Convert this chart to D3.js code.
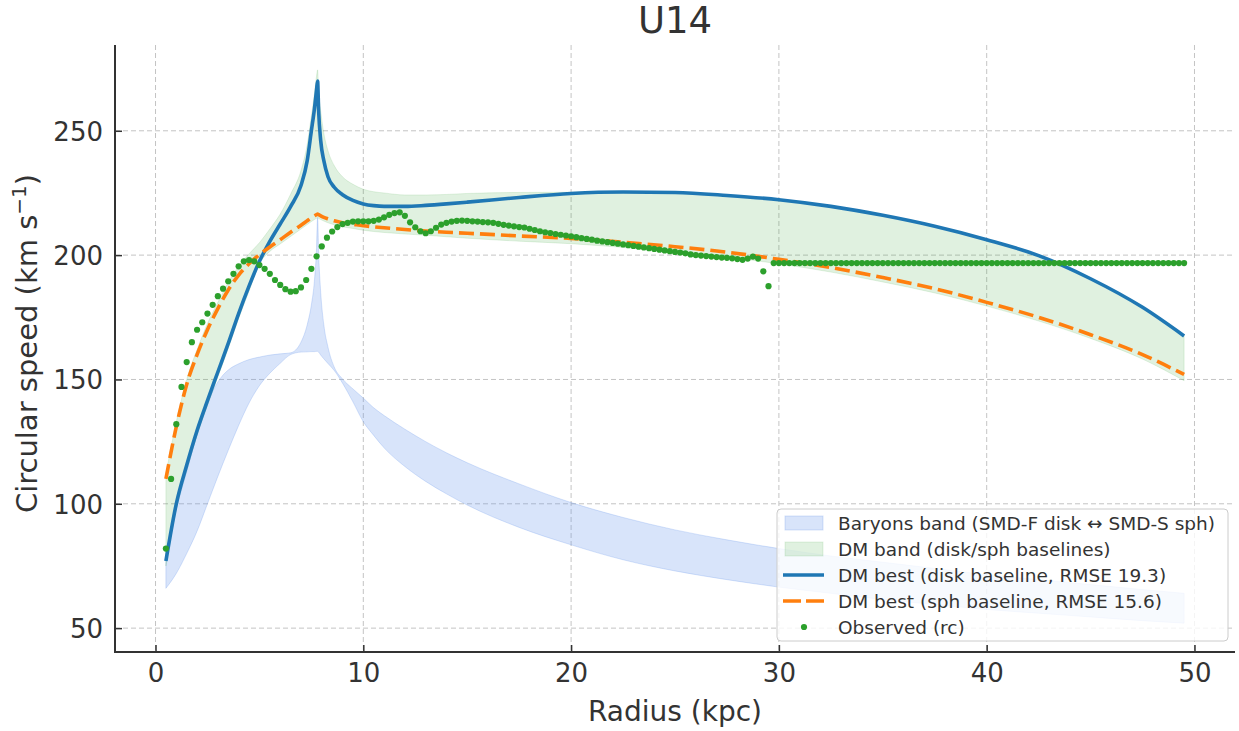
<!DOCTYPE html>
<html>
<head>
<meta charset="utf-8">
<script src="https://cdn.jsdelivr.net/npm/d3@7"></script>
<style>
  body { margin: 0; background: #fff; }
  svg { font-family: "DejaVu Sans", sans-serif; }
</style>
</head>
<body>
<svg width="1239" height="731"></svg>
<script>
// model radii (kpc) shared by the curves and bands
var radii = [0.5, 1, 1.5, 2, 2.5, 3, 3.5, 4, 4.5, 5,
  5.5, 6, 6.5, 7, 7.3, 7.5, 7.65, 7.75, 7.8, 7.85,
  7.95, 8.1, 8.3, 8.6, 9, 9.5, 10, 10.5, 11, 12,
  13, 14, 15, 17.5, 20, 22.5, 25, 27.5, 30, 32.5,
  35, 37.5, 40, 42.5, 45, 47.5, 49.5]

// DM best, disk baseline
var dmDisk = [77, 100, 115.5, 129.5, 141.5, 153, 164.5, 176.5, 187.5, 197.5,
  205.5, 212.5, 219.5, 228, 238, 250, 259, 266.5, 270, 258,
  246, 238, 231.5, 227.3, 224.3, 222, 220.6, 219.9, 219.6, 219.6,
  220, 220.6, 221.3, 223.2, 224.8, 225.4, 225.2, 224, 222.3, 219.6,
  216, 211.6, 206.2, 199.8, 190.5, 179, 167.5]

// DM best, sph baseline
var dmSph = [110, 131, 148, 160, 170, 178.5, 186, 192, 196.5, 200.2,
  203.3, 206.2, 209.2, 212, 213.8, 215, 215.8, 216.3, 216.5, 216.3,
  215.8, 215.2, 214.6, 213.8, 213, 212.4, 211.8, 211.4, 211, 210.3,
  209.7, 209.2, 208.8, 207.7, 206.7, 205.2, 203.4, 201.2, 198.3, 195,
  191, 186.5, 181, 175, 168, 160, 152]

// DM band edges
var dmHigh = [112, 133, 150, 162, 172.5, 181, 189, 195.5, 200.5, 205,
  210.5, 216.5, 224.5, 234, 244.5, 256, 265, 272, 274.5, 266,
  258, 249, 242, 236, 231.5, 228.5, 226.5, 225.5, 225, 224.2,
  224.2, 224.4, 224.8, 225.2, 225.3, 225.6, 225.4, 224.2, 222.5, 219.8,
  216.2, 211.8, 206.4, 200, 190.7, 179.2, 167.7]
var dmLow = [75, 98, 113.5, 127.5, 139.5, 151, 162.5, 174.5, 185.5, 196.5,
  201.5, 204.5, 207.5, 210.5, 212.3, 213.5, 214.3, 214.8, 215, 214.8,
  214.3, 213.7, 213, 212.2, 211.4, 210.7, 210, 209.5, 209.1, 208.5,
  208, 207.4, 206.8, 205.6, 204.6, 203.1, 201.4, 199.2, 196.5, 193.2,
  189.2, 184.8, 179.5, 173.5, 166.5, 158.2, 149.5]

// baryons: SMD-F disk and SMD-S sph
var barDisk = [66, 72, 80, 89, 100, 111, 121.5, 131.5, 140.5, 147.5,
  152.5, 156.5, 160, 165, 172, 180, 190, 203, 215, 201,
  185, 172, 163, 155, 148.5, 141, 133, 127.5, 122.5, 115,
  109, 104, 99.5, 90.5, 83.5, 77.5, 73, 69.5, 66.5, 64,
  61.5, 59.5, 57.5, 56, 54.5, 53, 52]
var barSph = [80, 98, 113, 128, 140.5, 149, 153.8, 156.3, 158, 159,
  159.8, 160.3, 160.7, 161, 161.1, 161.2, 161.2, 161.3, 161.3, 161,
  159.8, 158.3, 156.4, 153.6, 150.2, 146.2, 142.5, 138.6, 135.5, 130,
  125, 120.5, 116.5, 108, 100.5, 94.5, 89.5, 85.5, 82, 79,
  76.5, 74, 71.5, 69.5, 67.5, 65.5, 64]

// observed rotation curve (rc)
var obsR = [0.5, 0.75, 1, 1.25, 1.5, 1.75, 2, 2.25, 2.5, 2.75,
  3, 3.25, 3.5, 3.75, 4, 4.25, 4.5, 4.75, 5, 5.25,
  5.5, 5.75, 6, 6.25, 6.5, 6.75, 7, 7.25, 7.5, 7.75,
  8, 8.25, 8.5, 8.75, 9, 9.25, 9.5, 9.75, 10, 10.25,
  10.5, 10.75, 11, 11.25, 11.5, 11.75, 12, 12.25, 12.5, 12.75,
  13, 13.25, 13.5, 13.75, 14, 14.25, 14.5, 14.75, 15, 15.25,
  15.5, 15.75, 16, 16.25, 16.5, 16.75, 17, 17.25, 17.5, 17.75,
  18, 18.25, 18.5, 18.75, 19, 19.25, 19.5, 19.75, 20, 20.25,
  20.5, 20.75, 21, 21.25, 21.5, 21.75, 22, 22.25, 22.5, 22.75,
  23, 23.25, 23.5, 23.75, 24, 24.25, 24.5, 24.75, 25, 25.25,
  25.5, 25.75, 26, 26.25, 26.5, 26.75, 27, 27.25, 27.5, 27.75,
  28, 28.25, 28.5, 28.75, 29, 29.25, 29.5, 29.75, 30, 30.25,
  30.5, 30.75, 31, 31.25, 31.5, 31.75, 32, 32.25, 32.5, 32.75,
  33, 33.25, 33.5, 33.75, 34, 34.25, 34.5, 34.75, 35, 35.25,
  35.5, 35.75, 36, 36.25, 36.5, 36.75, 37, 37.25, 37.5, 37.75,
  38, 38.25, 38.5, 38.75, 39, 39.25, 39.5, 39.75, 40, 40.25,
  40.5, 40.75, 41, 41.25, 41.5, 41.75, 42, 42.25, 42.5, 42.75,
  43, 43.25, 43.5, 43.75, 44, 44.25, 44.5, 44.75, 45, 45.25,
  45.5, 45.75, 46, 46.25, 46.5, 46.75, 47, 47.25, 47.5, 47.75,
  48, 48.25, 48.5, 48.75, 49, 49.25, 49.5]
var obsV = [82, 110, 132, 147, 157, 165, 170, 173, 176.5, 180,
  183.5, 186.5, 189.5, 192.5, 195.5, 197.5, 198, 197.5, 196, 194.5,
  192.5, 190, 188, 186.3, 185.3, 185.5, 187, 190, 194.5, 199.5,
  203.5, 207, 209.5, 211.3, 212.5, 213, 213.5, 213.6, 213.6, 213.6,
  213.8, 214.3, 215.2, 216.2, 216.9, 217.2, 215.8, 213.2, 211.2, 209.6,
  208.8, 209.6, 211, 212.3, 213, 213.5, 213.8, 213.9, 213.8, 213.6,
  213.5, 213.3, 213.2, 213, 212.6, 212.2, 211.9, 211.6, 211.3, 211.1,
  210.6, 210.1, 209.6, 209.2, 208.9, 208.5, 208.2, 207.9, 207.6, 207.2,
  206.8, 206.5, 206.2, 205.8, 205.5, 205.2, 204.9, 204.6, 204.3, 204,
  203.7, 203.4, 203.1, 202.8, 202.5, 202.2, 201.9, 201.6, 201.3, 201,
  200.7, 200.3, 200, 199.8, 199.6, 199.4, 199.2, 199, 198.9, 198.7,
  198.4, 198.1, 198.6, 199.4, 198.6, 193.5, 187.5, 196.8, 196.8, 196.8,
  196.8, 196.8, 196.8, 196.8, 196.8, 196.8, 196.8, 196.8, 196.8, 196.8,
  196.8, 196.8, 196.8, 196.8, 196.8, 196.8, 196.8, 196.8, 196.8, 196.8,
  196.8, 196.8, 196.8, 196.8, 196.8, 196.8, 196.8, 196.8, 196.8, 196.8,
  196.8, 196.8, 196.8, 196.8, 196.8, 196.8, 196.8, 196.8, 196.8, 196.8,
  196.8, 196.8, 196.8, 196.8, 196.8, 196.8, 196.8, 196.8, 196.8, 196.8,
  196.8, 196.8, 196.8, 196.8, 196.8, 196.8, 196.8, 196.8, 196.8, 196.8,
  196.8, 196.8, 196.8, 196.8, 196.8, 196.8, 196.8, 196.8, 196.8, 196.8,
  196.8, 196.8, 196.8, 196.8, 196.8, 196.8, 196.8]

var xTicks = [0, 10, 20, 30, 40, 50]
var yTicks = [50, 100, 150, 200, 250]

var legendLabels = [
  'Baryons band (SMD-F disk \u2194 SMD-S sph)',
  'DM band (disk/sph baselines)',
  'DM best (disk baseline, RMSE 19.3)',
  'DM best (sph baseline, RMSE 15.6)',
  'Observed (rc)'
]

var blue = '#1f77b4', orange = '#ff7f0e', green = '#2ca02c', band = '#6495ed'
var textColor = '#333'

var svg = d3.select('svg')
var plotL = 115, plotR = 1235, plotT = 45, plotB = 652

var x = d3.scaleLinear().domain([-1.95, 51.95]).range([plotL, plotR])
var y = d3.scaleLinear().domain([40.4, 284.5]).range([plotB, plotT])

var pts = radii.map(function (r, i) { return i })

// grid
svg.append('g').selectAll('line')
  .data(xTicks).enter().append('line')
    .attr('x1', function (d) { return x(d) }).attr('x2', function (d) { return x(d) })
    .attr('y1', plotT).attr('y2', plotB)
    .attr('stroke', '#c4c4c4').attr('stroke-width', 1).attr('stroke-dasharray', '5,3')
svg.append('g').selectAll('line')
  .data(yTicks).enter().append('line')
    .attr('y1', function (d) { return y(d) }).attr('y2', function (d) { return y(d) })
    .attr('x1', plotL).attr('x2', plotR)
    .attr('stroke', '#c4c4c4').attr('stroke-width', 1).attr('stroke-dasharray', '5,3')

// baryons band
var barArea = d3.area()
  .x(function (i) { return x(radii[i]) })
  .y0(function (i) { return y(Math.min(barDisk[i], barSph[i])) })
  .y1(function (i) { return y(Math.max(barDisk[i], barSph[i])) })
  .curve(d3.curveMonotoneX)
svg.append('path').attr('d', barArea(pts))
  .attr('fill', band).attr('fill-opacity', 0.25)
  .attr('stroke', band).attr('stroke-opacity', 0.25).attr('stroke-width', 1)

// DM band
var dmArea = d3.area()
  .x(function (i) { return x(radii[i]) })
  .y0(function (i) { return y(dmLow[i]) })
  .y1(function (i) { return y(dmHigh[i]) })
  .curve(d3.curveMonotoneX)
svg.append('path').attr('d', dmArea(pts))
  .attr('fill', green).attr('fill-opacity', 0.15)
  .attr('stroke', green).attr('stroke-opacity', 0.12).attr('stroke-width', 1)

// best-fit curves
var line = function (arr) {
  return d3.line()
    .x(function (i) { return x(radii[i]) })
    .y(function (i) { return y(arr[i]) })
    .curve(d3.curveMonotoneX)(pts)
}
svg.append('path').attr('d', line(dmDisk))
  .attr('fill', 'none').attr('stroke', blue).attr('stroke-width', 3.6)
svg.append('path').attr('d', line(dmSph))
  .attr('fill', 'none').attr('stroke', orange).attr('stroke-width', 3.6)
  .attr('stroke-dasharray', '15,6')

// observed
svg.append('g').selectAll('circle')
  .data(obsR).enter().append('circle')
    .attr('cx', function (d) { return x(d) })
    .attr('cy', function (d, i) { return y(obsV[i]) })
    .attr('r', 3.1)
    .attr('fill', green)

// axes (inward ticks, left + bottom spines only)
var xAxis = svg.append('g').attr('transform', 'translate(0,' + plotB + ')')
  .call(d3.axisBottom(x).tickValues(xTicks).tickSize(-7).tickPadding(12).tickFormat(d3.format('d')))
var yAxis = svg.append('g').attr('transform', 'translate(' + plotL + ',0)')
  .call(d3.axisLeft(y).tickValues(yTicks).tickSize(-7).tickPadding(12).tickFormat(d3.format('d')))
;[xAxis, yAxis].forEach(function (g) {
  g.select('.domain').remove()
  g.selectAll('.tick line').attr('stroke', textColor).attr('stroke-width', 1.5)
  g.selectAll('.tick text').attr('fill', textColor).style('font-size', '26px')
    .style('font-family', '"DejaVu Sans", sans-serif')
})
yAxis.selectAll('.tick text').attr('dy', '0.36em')

svg.append('line').attr('x1', plotL).attr('x2', plotL).attr('y1', plotT).attr('y2', plotB + 1)
  .attr('stroke', textColor).attr('stroke-width', 2)
svg.append('line').attr('x1', plotL - 1).attr('x2', plotR).attr('y1', plotB).attr('y2', plotB)
  .attr('stroke', textColor).attr('stroke-width', 2)

// title & labels
svg.append('text').attr('x', (plotL + plotR) / 2).attr('y', 33)
  .attr('text-anchor', 'middle').attr('fill', textColor).style('font-size', '37px')
  .text('U14')
svg.append('text').attr('x', (plotL + plotR) / 2).attr('y', 721)
  .attr('text-anchor', 'middle').attr('fill', textColor).style('font-size', '28px')
  .text('Radius (kpc)')
var yl = svg.append('text')
  .attr('transform', 'translate(37,' + ((plotT + plotB) / 2 - 5) + ') rotate(-90)')
  .attr('text-anchor', 'middle').attr('fill', textColor).style('font-size', '29px')
yl.append('tspan').text('Circular speed (km s')
yl.append('tspan').attr('dy', -11).style('font-size', '20px').text('\u22121')
yl.append('tspan').attr('dy', 11).text(')')

// legend
var lg = svg.append('g').attr('transform', 'translate(777,509)')
lg.append('rect').attr('width', 451).attr('height', 132).attr('rx', 4)
  .attr('fill', '#fff').attr('fill-opacity', 0.8)
  .attr('stroke', '#cccccc').attr('stroke-width', 1)

var rows = lg.selectAll('g.row').data(legendLabels).enter().append('g')
  .attr('class', 'row')
  .attr('transform', function (d, i) { return 'translate(0,' + (14 + i * 26) + ')' })
rows.append('text').attr('x', 61).attr('dy', '0.36em')
  .attr('fill', textColor).style('font-size', '18.5px')
  .text(function (d) { return d })

var r0 = d3.select(rows.nodes()[0])
r0.append('rect').attr('x', 8).attr('y', -7).attr('width', 38).attr('height', 14)
  .attr('fill', band).attr('fill-opacity', 0.25).attr('stroke', band).attr('stroke-opacity', 0.25)
var r1 = d3.select(rows.nodes()[1])
r1.append('rect').attr('x', 8).attr('y', -7).attr('width', 38).attr('height', 14)
  .attr('fill', green).attr('fill-opacity', 0.15).attr('stroke', green).attr('stroke-opacity', 0.12)
d3.select(rows.nodes()[2]).append('line').attr('x1', 6).attr('x2', 47)
  .attr('stroke', blue).attr('stroke-width', 3.6)
d3.select(rows.nodes()[3]).append('line').attr('x1', 6).attr('x2', 47)
  .attr('stroke', orange).attr('stroke-width', 3.6).attr('stroke-dasharray', '18,5')
d3.select(rows.nodes()[4]).append('circle').attr('cx', 27).attr('r', 3.1).attr('fill', green)
</script>
</body>
</html>
